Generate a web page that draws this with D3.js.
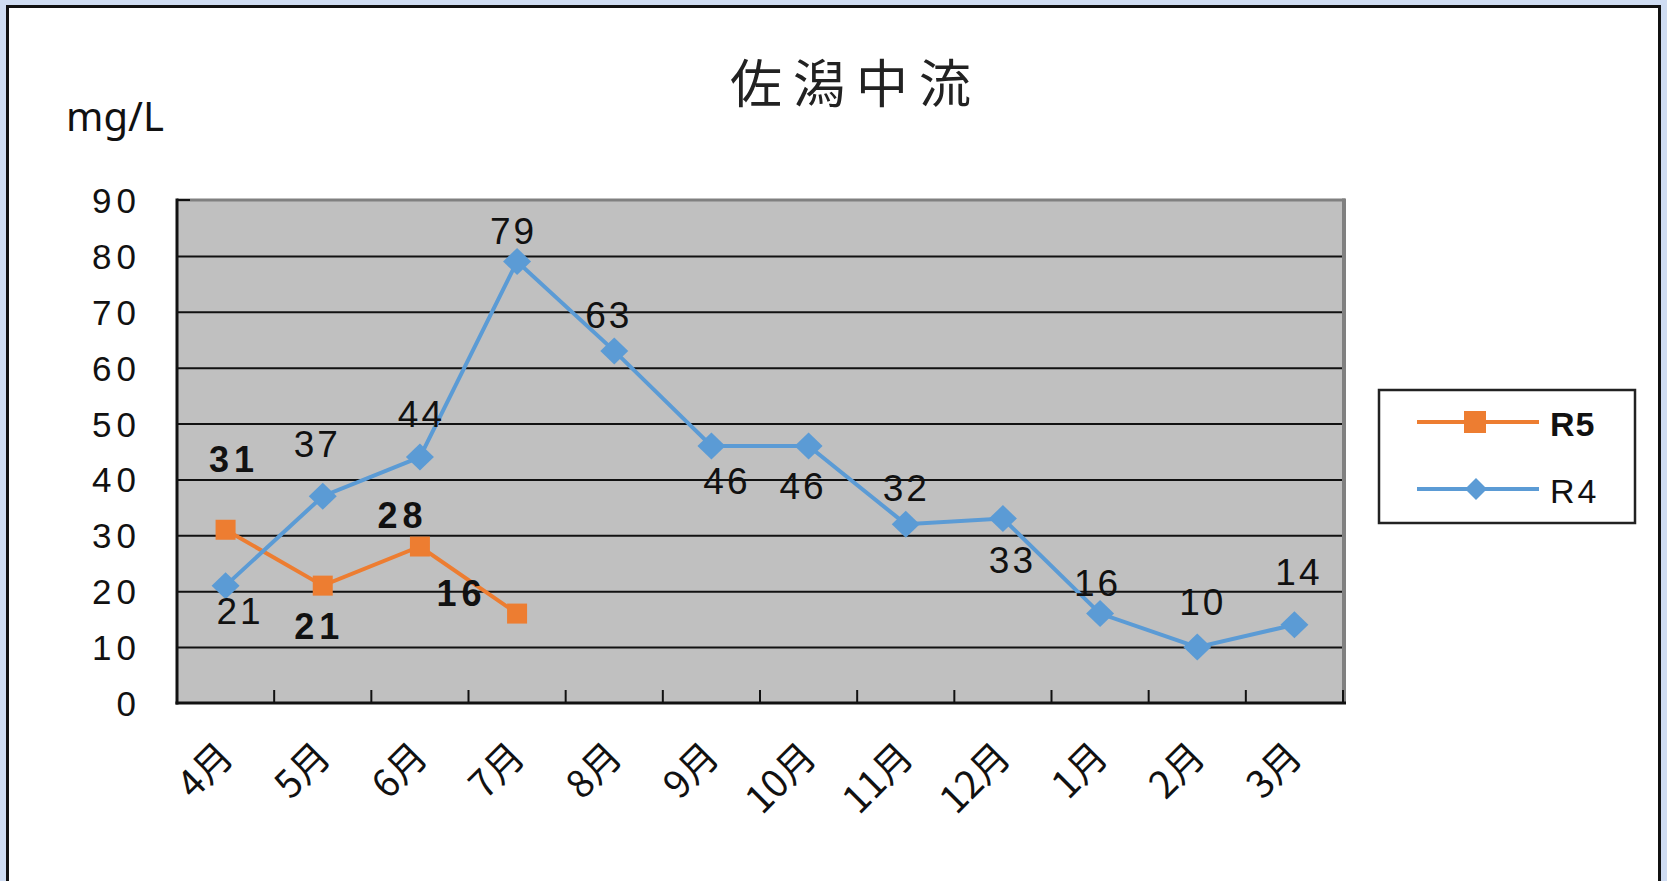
<!DOCTYPE html>
<html><head><meta charset="utf-8">
<script src="https://cdn.jsdelivr.net/npm/d3@7"></script>
<style>
html,body{margin:0;padding:0;background:#cfdcf2;overflow:hidden}
svg{display:block}
</style></head><body>
<svg id="chart" width="1667" height="881"></svg>
<script>
// ---- data ----
const title = "佐潟中流";
const unitLabel = "mg/L";
const months = ["4月","5月","6月","7月","8月","9月","10月","11月","12月","1月","2月","3月"];
const r4Values = [21,37,44,79,63,46,46,32,33,16,10,14];
const r5Values = [31,21,28,16];
const yTicks = [0,10,20,30,40,50,60,70,80,90];
const seriesNames = ["R5","R4"];
// data-label placement offsets (px from marker)
const r4LabelOffsets = [[13,26],[-7,-52],[0,-43],[-5,-30],[-7,-35],[14,36],[-7,41],[-1,-36],[8,42],[-4,-30],[4,-45],[3,-52]];
const r5LabelOffsets = [[6,-70],[-6,41],[-20,-31],[-58,-20]];

// ---- layout ----
const plot = {left:177, right:1343, top:200, bottom:703};
const colR5 = "#ED7D31", colR4 = "#5B9BD5";
const numFont = "'Liberation Sans', Arial, sans-serif";
const cjkFont = "'Noto Sans CJK JP', sans-serif";

const svg = d3.select("#chart");

// outer frame
svg.append("rect").attr("x",7.5).attr("y",6.5).attr("width",1652).attr("height",900)
  .attr("fill","#fff").attr("stroke","#111").attr("stroke-width",3);

const x = d3.scaleBand().domain(months).range([plot.left, plot.right]).padding(0);
const y = d3.scaleLinear().domain([0,90]).range([plot.bottom, plot.top]);
const cx = m => x(m) + x.bandwidth()/2;

// plot area
svg.append("rect").attr("x",plot.left).attr("y",plot.top)
  .attr("width",plot.right-plot.left).attr("height",plot.bottom-plot.top).attr("fill","#c0c0c0");

// gridlines
const grid = svg.append("g").attr("transform",`translate(${plot.left},0)`)
  .call(d3.axisLeft(y).tickValues(yTicks.filter(v=>v>0 && v<90)).tickSize(-(plot.right-plot.left)).tickFormat(""));
grid.select(".domain").remove();
grid.selectAll("line").attr("stroke","#111").attr("stroke-width",2);

// top & right border (gray)
svg.append("line").attr("x1",plot.left).attr("x2",plot.right+2).attr("y1",plot.top).attr("y2",plot.top)
  .attr("stroke","#808080").attr("stroke-width",3);
svg.append("line").attr("x1",plot.right+1).attr("x2",plot.right+1).attr("y1",plot.top-1.5).attr("y2",plot.bottom+1)
  .attr("stroke","#808080").attr("stroke-width",4);
svg.append("line").attr("x1",plot.left).attr("x2",plot.left+13).attr("y1",plot.top).attr("y2",plot.top)
  .attr("stroke","#111").attr("stroke-width",2);

// x ticks at band boundaries
svg.append("g").selectAll("line").data(months.slice(1).concat(["__end"]))
  .join("line")
  .attr("x1",(d,i)=> i<months.length-1 ? x(d) : plot.right)
  .attr("x2",(d,i)=> i<months.length-1 ? x(d) : plot.right)
  .attr("y1",plot.bottom).attr("y2",plot.bottom-13)
  .attr("stroke","#111").attr("stroke-width",2);

// left & bottom axis lines
svg.append("line").attr("x1",plot.left).attr("x2",plot.left).attr("y1",plot.top-1.5).attr("y2",plot.bottom+1.5)
  .attr("stroke","#111").attr("stroke-width",3);
svg.append("line").attr("x1",plot.left-1.5).attr("x2",plot.right+3).attr("y1",plot.bottom).attr("y2",plot.bottom)
  .attr("stroke","#111").attr("stroke-width",3);

// y tick labels
const yLS = 5;
const yAx = svg.append("g").attr("transform",`translate(${136+yLS},0)`)
  .call(d3.axisLeft(y).tickValues(yTicks).tickSize(0).tickPadding(0));
yAx.select(".domain").remove();
yAx.selectAll("text").attr("font-family",numFont).attr("font-size",35).attr("fill","#111")
  .attr("letter-spacing",yLS).attr("dy",null).attr("dominant-baseline","central");

// x tick labels
const xAx = svg.append("g").attr("transform",`translate(0,${plot.bottom})`)
  .call(d3.axisBottom(x).tickSize(0));
xAx.select(".domain").remove();
xAx.selectAll("text").attr("font-family",cjkFont).attr("font-size",38).attr("fill","#111")
  .attr("text-anchor","end").attr("x",10).attr("y",56).attr("dy",null)
  .attr("transform","rotate(-45,10,56)");

// lines
const line = d3.line().x(d=>cx(d.m)).y(d=>y(d.v));
const r5 = r5Values.map((v,i)=>({m:months[i], v, i}));
const r4 = r4Values.map((v,i)=>({m:months[i], v, i}));

svg.append("path").datum(r5).attr("d",line).attr("fill","none").attr("stroke",colR5).attr("stroke-width",4);
svg.append("g").selectAll("rect").data(r5).join("rect")
  .attr("x",d=>cx(d.m)-10).attr("y",d=>y(d.v)-10).attr("width",20).attr("height",20).attr("fill",colR5);

svg.append("path").datum(r4).attr("d",line).attr("fill","none").attr("stroke",colR4).attr("stroke-width",4);
const diamond = (hw,hh)=>`M0,${-hh}L${hw},0L0,${hh}L${-hw},0Z`;
svg.append("g").selectAll("path").data(r4).join("path")
  .attr("transform",d=>`translate(${cx(d.m)},${y(d.v)})`).attr("d",diamond(14,13.5)).attr("fill",colR4);

// data labels
const lblLS = 3;
svg.append("g").selectAll("text").data(r4).join("text")
  .attr("x",d=>cx(d.m)+r4LabelOffsets[d.i][0]+lblLS/2).attr("y",d=>y(d.v)+r4LabelOffsets[d.i][1])
  .attr("text-anchor","middle").attr("dominant-baseline","central")
  .attr("font-family",numFont).attr("font-size",37).attr("letter-spacing",lblLS).attr("fill","#111")
  .text(d=>d.v);
const bLS = 5;
svg.append("g").selectAll("text").data(r5).join("text")
  .attr("x",d=>cx(d.m)+r5LabelOffsets[d.i][0]+bLS/2).attr("y",d=>y(d.v)+r5LabelOffsets[d.i][1])
  .attr("text-anchor","middle").attr("dominant-baseline","central")
  .attr("font-family",numFont).attr("font-weight","bold").attr("font-size",36).attr("letter-spacing",bLS).attr("fill","#111")
  .text(d=>d.v);

// title & unit
const tLS = 11;
svg.append("text").attr("x",850.5+tLS/2).attr("y",103).attr("text-anchor","middle")
  .attr("font-family",cjkFont).attr("font-size",52).attr("letter-spacing",tLS).attr("fill","#222").text(title);
svg.append("text").attr("x",66).attr("y",131)
  .attr("font-family","'Noto Sans', 'Open Sans', sans-serif").attr("font-size",40).attr("fill","#111").text(unitLabel);

// legend
const lg = svg.append("g");
lg.append("rect").attr("x",1379).attr("y",390).attr("width",256).attr("height",133)
  .attr("fill","#fff").attr("stroke","#222").attr("stroke-width",2.5);
const legendRows = [
  {name:seriesNames[0], color:colR5, y:422, shape:"square", bold:true},
  {name:seriesNames[1], color:colR4, y:489, shape:"diamond", bold:false}
];
legendRows.forEach(r=>{
  lg.append("line").attr("x1",1417).attr("x2",1539).attr("y1",r.y).attr("y2",r.y)
    .attr("stroke",r.color).attr("stroke-width",4);
  if (r.shape==="square") {
    lg.append("rect").attr("x",1475-11).attr("y",r.y-11).attr("width",22).attr("height",22).attr("fill",r.color);
  } else {
    lg.append("path").attr("transform",`translate(1476,${r.y})`).attr("d",diamond(11,11)).attr("fill",r.color);
  }
  lg.append("text").attr("x",1550).attr("y",r.y+14)
    .attr("font-family",numFont).attr("font-size",34).attr("font-weight",r.bold?"bold":"normal")
    .attr("letter-spacing",r.bold?1:3).attr("fill","#111").text(r.name);
});
</script>
</body></html>
